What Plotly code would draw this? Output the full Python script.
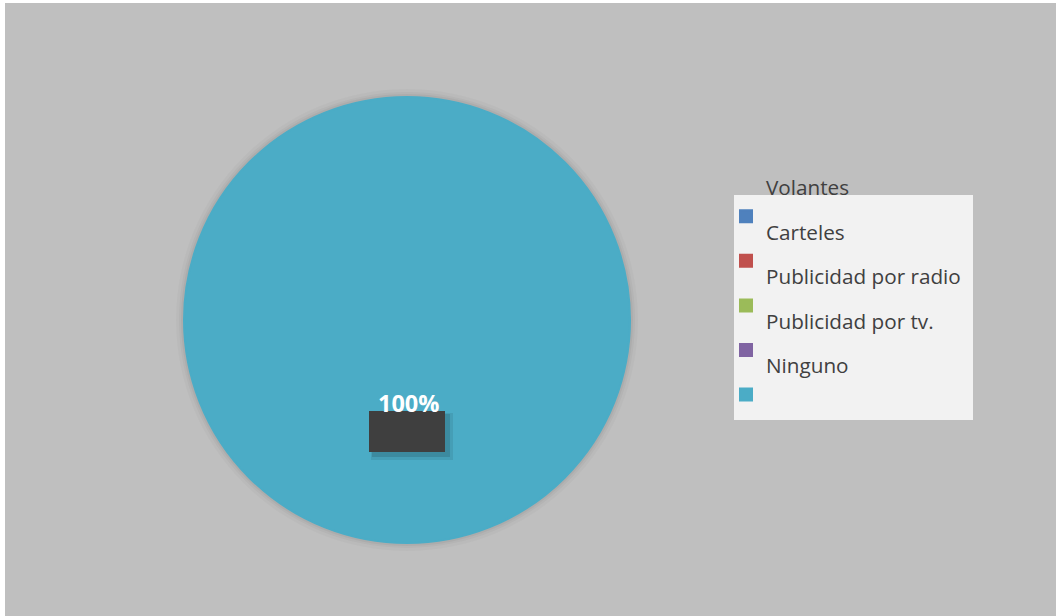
import plotly.graph_objects as go

# ---- data ----
categories = ["Volantes", "Carteles", "Publicidad por radio", "Publicidad por tv.", "Ninguno"]
values = [0, 0, 0, 0, 100]
colors = ["#4f81bd", "#c0504d", "#9bbb59", "#8064a2", "#4bacc6"]

W, H = 1056, 616
def fx(p):
    return p / W
def fy(p):
    return 1 - p / H

# pie geometry (pixels)
cx, cy, r = 407, 320, 223

# legend labels: text sits above its swatch (as in the reference)
legend_labels = [
    f"<sup><span style='font-size:20.7px'>{c}</span></sup><br>\u00a0" for c in categories
]

pct = values[-1] / sum(values) * 100

fig = go.Figure(
    go.Pie(
        labels=legend_labels,
        values=values,
        marker=dict(colors=colors, line=dict(color=colors, width=2)),
        sort=False,
        direction="clockwise",
        textinfo="none",
        hovertext=categories,
        hoverinfo="text+percent",
        domain=dict(x=[fx(cx - r), fx(cx + r)], y=[fy(cy + r), fy(cy - r)]),
    )
)

shapes = [
    # gray panel (white strip at top and left)
    dict(type="rect", xref="paper", yref="paper", x0=fx(5), x1=1, y0=0, y1=fy(3),
         fillcolor="#bfbfbf", line=dict(width=0), layer="below"),
    # soft shadow around the pie
    dict(type="circle", xref="paper", yref="paper", x0=fx(cx - r - 8), x1=fx(cx + r + 8),
         y0=fy(cy + r + 8), y1=fy(cy - r - 8), fillcolor="rgba(0,0,0,0.025)",
         line=dict(width=0), layer="below"),
    dict(type="circle", xref="paper", yref="paper", x0=fx(cx - r - 5), x1=fx(cx + r + 5),
         y0=fy(cy + r + 5), y1=fy(cy - r - 5), fillcolor="rgba(0,0,0,0.03)",
         line=dict(width=0), layer="below"),
    dict(type="circle", xref="paper", yref="paper", x0=fx(cx - r - 3), x1=fx(cx + r + 3),
         y0=fy(cy + r + 3), y1=fy(cy - r - 3), fillcolor="rgba(0,0,0,0.04)",
         line=dict(width=0), layer="below"),
    # legend box
    dict(type="rect", xref="paper", yref="paper", x0=fx(734), x1=fx(973), y0=fy(420), y1=fy(195),
         fillcolor="#f2f2f2", line=dict(width=0), layer="below"),
    # data label box soft shadow + box
    dict(type="rect", xref="paper", yref="paper", x0=fx(371), x1=fx(453), y0=fy(460), y1=fy(413),
         fillcolor="rgba(0,0,0,0.08)", line=dict(width=0), layer="above"),
    dict(type="rect", xref="paper", yref="paper", x0=fx(372), x1=fx(450), y0=fy(457), y1=fy(414),
         fillcolor="rgba(0,0,0,0.12)", line=dict(width=0), layer="above"),
    dict(type="rect", xref="paper", yref="paper", x0=fx(369), x1=fx(445), y0=fy(452), y1=fy(411),
         fillcolor="#3f3f3f", line=dict(width=0), layer="above"),
]

fig.update_layout(
    width=W,
    height=H,
    margin=dict(l=0, r=0, t=0, b=0),
    paper_bgcolor="#ffffff",
    plot_bgcolor="#bfbfbf",
    showlegend=True,
    legend=dict(
        x=fx(726), y=fy(178.5), xanchor="left", yanchor="top",
        bgcolor="rgba(0,0,0,0)", borderwidth=0,
        font=dict(family="Open Sans", size=16, color="#404040"),
        valign="bottom",
    ),
    shapes=shapes,
    annotations=[
        dict(text=f"<b>{pct:.0f}%</b>", xref="paper", yref="paper", x=fx(408), y=fy(403),
             xanchor="center", yanchor="middle", showarrow=False,
             font=dict(family="Open Sans", size=23.5, color="#ffffff")),
    ],
)

fig.write_html("out.html")
